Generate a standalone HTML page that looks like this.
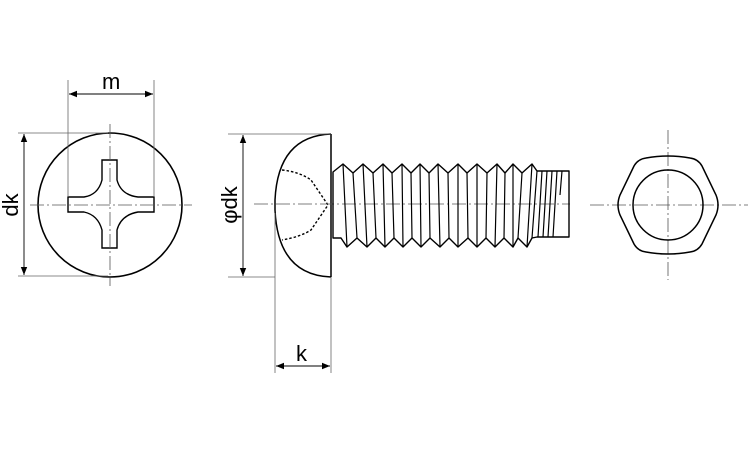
<!DOCTYPE html>
<html><head><meta charset="utf-8"><style>
html,body{margin:0;padding:0;background:#fff;}
svg{display:block}
text{font-family:"Liberation Sans",sans-serif;font-size:22px;fill:#000}
</style></head><body>
<svg width="750" height="450" viewBox="0 0 750 450" xmlns="http://www.w3.org/2000/svg">
<defs>
<marker id="a" viewBox="0 0 10 10" refX="10" refY="5" markerWidth="10" markerHeight="8" orient="auto-start-reverse" markerUnits="userSpaceOnUse"><path d="M0,1 L10,5 L0,9 z" fill="#000"/></marker>
</defs>
<g fill="none" stroke="#000">
<circle cx="110" cy="205" r="72" stroke-width="1.6"/>
<path d="M102,160 H117 V180 Q121,195 138,197 H154 V212 H138 Q121,215 117,230 V248 H102 V230 Q98,215 84,212 H68 V197 H84 Q98,195 102,180 Z" stroke-width="1.4"/>
<path d="M30,205 H192 M110,124 V286" stroke="#555" stroke-width="0.8" stroke-dasharray="14,3,2,3"/>
<path d="M68,197 V80 M154,197 V80 M18,133 H108 M18,276 H108" stroke="#666" stroke-width="0.8"/>
<path d="M69,94 H153" stroke-width="0.9" marker-start="url(#a)" marker-end="url(#a)"/>
<path d="M24,134 V275" stroke-width="0.9" marker-start="url(#a)" marker-end="url(#a)"/>
<path d="M331,134 V277 M331,134 Q278,136 275,200 V210 Q278,275 331,277" stroke-width="1.5"/>
<path d="M282,170 Q300,172 311,180 L328,205 L311,230 Q300,237 282,240" stroke-width="1.4" stroke-dasharray="2.5,2"/>
<path d="M228,134 H331 M228,277 H275 M275,213 V373 M331,277 V373" stroke="#666" stroke-width="0.8"/>
<path d="M243,135 V276" stroke-width="0.9" marker-start="url(#a)" marker-end="url(#a)"/>
<path d="M276,366 H330" stroke-width="0.9" marker-start="url(#a)" marker-end="url(#a)"/>
<path d="M254,204 H570" stroke="#555" stroke-width="0.8" stroke-dasharray="14,3,2,3"/>
<path d="M333,172 L343,164 L353,173 L363,164 L373,173 L383,164 L392,173 L402,164 L411,173 L420,164 L429,173 L438,164 L448,173 L458,164 L467,173 L477,164 L487,173 L497,164 L505,173 L513,164 L522,173 L532,164 L537,171 H569 V237 H537 L532,238 L527,247 L518,238 L513,247 L504,238 L495,247 L486,238 L477,247 L468,238 L458,247 L449,238 L440,247 L430,238 L421,247 L412,238 L403,247 L394,238 L385,247 L376,238 L367,247 L357,238 L347,247 L341,238 H333 Z" stroke-width="1.4" stroke-linejoin="round"/>
<path d="M343,164 L347,247 M353,173 L357,238 M363,164 L367,247 M373,173 L376,238 M383,164 L385,247 M392,173 L394,238 M402,164 L403,247 M411,173 L412,238 M420,164 L421,247 M429,173 L430,238 M438,164 L440,247 M448,173 L449,238 M458,164 L458,247 M467,173 L468,238 M477,164 L477,247 M487,173 L486,238 M497,164 L495,247 M505,173 L504,238 M513,164 L513,247 M522,173 L518,238 M532,164 L527,247 M537,171 L532,238 M542,171 L538,237 M547,171 L543,237 M552,171 L548,237 M557,171 L553,237 M562,171 L560,195" stroke-width="1.2"/>
<path d="M590,205 H748 M668,130 V280" stroke="#555" stroke-width="0.8" stroke-dasharray="14,3,2,3"/>
<path d="M646,158 Q668,154 690,158 Q698,159 702,166 L716,195 Q720,205 716,215 L702,244 Q698,251 690,252 Q668,256 646,252 Q638,251 634,244 L620,215 Q616,205 620,195 L634,166 Q638,159 646,158 Z" stroke-width="1.5"/>
<circle cx="668" cy="205" r="35" stroke-width="1.5"/>
</g>
<text x="102" y="89">m</text>
<text transform="translate(18,205) rotate(-90)" text-anchor="middle">dk</text>
<text transform="translate(237,205) rotate(-90)" text-anchor="middle">φdk</text>
<text x="296" y="361">k</text>
</svg>
</body></html>
